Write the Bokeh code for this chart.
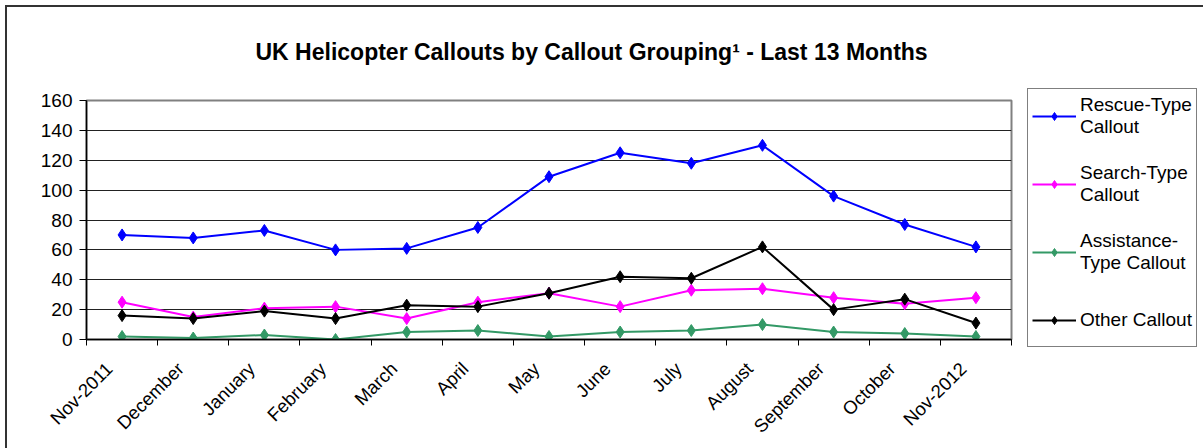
import math
from bokeh.plotting import figure
from bokeh.models import (Range1d, FixedTicker, Legend, LegendItem)
from bokeh.embed import file_html
from bokeh.resources import INLINE

months = ["Nov-2011", "December", "January", "February", "March", "April", "May",
          "June", "July", "August", "September", "October", "Nov-2012"]
rescue = [70, 68, 73, 60, 61, 75, 109, 125, 118, 130, 96, 77, 62]
search = [25, 15, 21, 22, 14, 25, 31, 22, 33, 34, 28, 24, 28]
assist = [2, 1, 3, 0, 5, 6, 2, 5, 6, 10, 5, 4, 2]
other = [16, 14, 19, 14, 23, 22, 31, 42, 41, 62, 20, 27, 11]
series_names = ["Rescue-Type\nCallout", "Search-Type\nCallout", "Assistance-\nType Callout", "Other Callout"]
colors = ["#0000FF", "#FF00FF", "#339966", "#000000"]
y_ticks = [0, 20, 40, 60, 80, 100, 120, 140, 160]

FONT = "Liberation Sans"
n = len(months)
xs = [i + 0.5 for i in range(n)]
label_shift = -0.18  # rotated labels sit a little left of the category centre
label_pos = [x + label_shift for x in xs]

p = figure(frame_width=925, frame_height=239, output_backend="svg", toolbar_location=None,
           x_range=Range1d(0, n), y_range=Range1d(0, 160),
           min_border_left=86, min_border_right=0, min_border_top=100, min_border_bottom=109)
p.styles = {"background": "linear-gradient(#333333,#333333) 5px 5px / 2px 100% no-repeat, "
                          "linear-gradient(#333333,#333333) 5px 5px / 100% 2px no-repeat, white"}
p.background_fill_color = "white"
p.border_fill_color = None
p.outline_line_color = "#808080"
p.outline_line_width = 2

p.title.text = "UK Helicopter Callouts by Callout Grouping\u00b9 - Last 13 Months"
p.title.text_font = FONT
p.title.text_font_size = "23px"
p.title.text_font_style = "bold"
p.title.text_color = "#000000"
p.title.align = "left"
p.title.offset = 169
p.title.standoff = 72

# axes
xa = p.xaxis[0]
xa.ticker = FixedTicker(ticks=label_pos, minor_ticks=list(range(n + 1)))
xa.major_label_overrides = {x: m for x, m in zip(label_pos, months)}
xa.major_label_orientation = math.pi / 4
xa.major_label_text_font = FONT
xa.major_label_text_font_size = "18.5px"
xa.major_label_text_color = "#000000"
xa.major_tick_out = 0
xa.major_tick_in = 0
xa.minor_tick_out = 6
xa.minor_tick_in = 0
xa.minor_tick_line_color = "#000000"
xa.axis_line_color = "#000000"
xa.axis_line_width = 1.5
xa.major_label_standoff = 20

ya = p.yaxis[0]
ya.ticker = FixedTicker(ticks=y_ticks)
ya.major_label_text_font = FONT
ya.major_label_text_font_size = "19px"
ya.major_label_text_color = "#000000"
ya.major_tick_out = 7
ya.major_tick_in = 0
ya.minor_tick_line_color = None
ya.axis_line_color = "#000000"
ya.axis_line_width = 1.5
ya.major_label_standoff = 7

p.xgrid.visible = False
p.ygrid.grid_line_color = "#222222"
p.ygrid.grid_line_width = 1

items = []
for name, vals, c in zip(series_names, [rescue, search, assist, other], colors):
    l = p.line(xs, vals, line_color=c, line_width=2)
    s = p.scatter(xs, vals, marker="diamond", size=12, fill_color=c, line_color=c, line_width=1)
    items.append(LegendItem(label=name, renderers=[l, s]))

legend = Legend(items=items, location=(16, -8))
legend.border_line_color = "#000000"
legend.border_line_width = 1.5
legend.background_fill_color = "white"
legend.label_text_font = FONT
legend.label_text_font_size = "19px"
legend.label_text_color = "#000000"
legend.label_text_line_height = 1.1
legend.label_height = 45
legend.glyph_height = 20
legend.glyph_width = 44
legend.label_standoff = 4
legend.spacing = 23
legend.padding = 4
legend.margin = 0
p.add_layout(legend, "right")

open("out.html", "w").write(file_html(p, INLINE))
